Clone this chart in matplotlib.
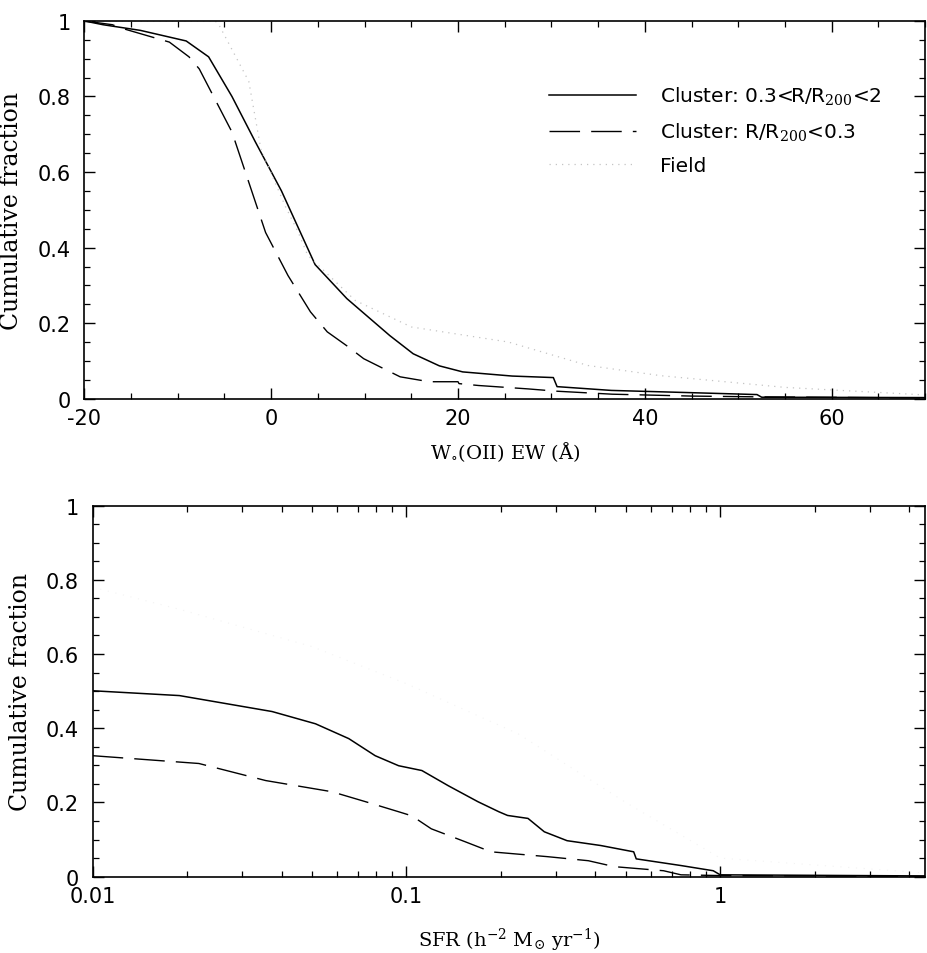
import numpy as np
import matplotlib
matplotlib.use('Agg')
import matplotlib.pyplot as plt
from matplotlib.ticker import MultipleLocator, FixedLocator, NullFormatter

plt.rcParams['font.family'] = ['DejaVu Serif', 'Liberation Serif']
plt.rcParams['mathtext.fontset'] = 'dejavuserif'

# top panel: cumulative fraction vs W0(OII) EW
ew_out = [-20, -18, -14, -9.1, -6.7, -4.2, -1.7, 1.1, 4.7, 8.1, 12.7, 15.2, 18.0, 20.5,
          25.8, 30.2, 30.6, 36.4, 45, 52, 52.5, 70]
cf_out = [1.0, 0.99, 0.975, 0.947, 0.905, 0.80, 0.68, 0.55, 0.355, 0.265, 0.167, 0.119,
          0.087, 0.071, 0.06, 0.056, 0.032, 0.022, 0.016, 0.011, 0.004, 0.003]
ew_in = [-20, -17, -15.9, -10.9, -8.8, -7.7, -4.2, -0.6, 1.8, 4.2, 6.0, 8.1, 9.9, 11.6,
         13.8, 16.9, 19.5, 20, 20.1, 22.2, 27.5, 30.5, 36.5, 45, 52, 70]
cf_in = [1.0, 0.99, 0.98, 0.944, 0.905, 0.873, 0.706, 0.44, 0.326, 0.23, 0.177, 0.14, 0.106,
         0.085, 0.058, 0.045, 0.045, 0.045, 0.04, 0.035, 0.026, 0.02, 0.012, 0.007, 0.005, 0.002]
ew_field = [-20, -6, -5.6, -2.4, -1.1, 1.5, 2.9, 3.9, 9, 15, 25.4, 33.9, 41.7, 55, 70]
cf_field = [1.0, 1.0, 0.99, 0.84, 0.66, 0.51, 0.44, 0.38, 0.26, 0.19, 0.15, 0.088, 0.061, 0.03, 0.01]

# bottom panel: cumulative fraction vs SFR
sfr_out = [0.01, 0.0189, 0.0373, 0.0513, 0.0655, 0.0795, 0.0944, 0.112, 0.136, 0.169, 0.197,
           0.21, 0.244, 0.275, 0.325, 0.416, 0.53, 0.54, 0.75, 0.95, 1.0, 4.5]
cf_sfr_out = [0.501, 0.488, 0.445, 0.412, 0.372, 0.326, 0.299, 0.286, 0.245, 0.202, 0.175,
              0.165, 0.157, 0.121, 0.097, 0.084, 0.067, 0.048, 0.03, 0.016, 0.005, 0.002]
sfr_in = [0.01, 0.0218, 0.0356, 0.0578, 0.0741, 0.0944, 0.104, 0.12, 0.154, 0.186, 0.281,
          0.38, 0.46, 0.66, 0.75, 1.0, 4.5]
cf_sfr_in = [0.326, 0.305, 0.259, 0.229, 0.202, 0.175, 0.164, 0.129, 0.094, 0.067, 0.054,
             0.043, 0.027, 0.016, 0.005, 0.003, 0.001]
sfr_field = [0.01, 0.019, 0.05, 0.1, 0.227, 0.5, 1.0, 4.5]
cf_sfr_field = [0.78, 0.72, 0.62, 0.52, 0.385, 0.2, 0.05, 0.01]

labels = [r'Cluster: 0.3<R/R$_{200}$<2', r'Cluster: R/R$_{200}$<0.3', 'Field']
dash = (0, (22, 8))

fig = plt.figure(figsize=(9.27, 9.54), dpi=100)
ax1 = fig.add_axes([0.091, 0.581, 0.907, 0.396])
ax2 = fig.add_axes([0.100, 0.080, 0.898, 0.389])

l1, = ax1.plot(ew_out, cf_out, color='black', linewidth=1.1)
l2, = ax1.plot(ew_in, cf_in, color='black', linewidth=1.0, linestyle=dash)
l3, = ax1.plot(ew_field, cf_field, color='#c4c4c4', linewidth=0.9, linestyle=(0, (1, 4)))
ax1.set_xlim(-20, 70)
ax1.set_ylim(0, 1)
ax1.set_xticks([-20, 0, 20, 40, 60])
ax1.set_xticklabels(['-20', '0', '20', '40', '60'])
ax1.xaxis.set_minor_locator(MultipleLocator(5))
ax1.set_yticks([0, 0.2, 0.4, 0.6, 0.8, 1.0])
ax1.set_yticklabels(['0', '0.2', '0.4', '0.6', '0.8', '1'])
ax1.yaxis.set_minor_locator(MultipleLocator(0.05))
ax1.set_xlabel(r'W$_{\circ}$(OII) EW (Å)', fontsize=14, labelpad=8)
ax1.set_ylabel('Cumulative fraction', fontsize=17, labelpad=10)
ax1.legend([l1, l2, l3], labels, loc='upper left', bbox_to_anchor=(0.553, 0.83),
           frameon=False, handlelength=4.3, handletextpad=1.2, borderpad=0,
           borderaxespad=0, labelspacing=0.65, prop={'family': 'DejaVu Sans', 'size': 14.5})

ax2.plot(sfr_out, cf_sfr_out, color='black', linewidth=1.1)
ax2.plot(sfr_in, cf_sfr_in, color='black', linewidth=1.0, linestyle=dash)
ax2.plot(sfr_field, cf_sfr_field, color='#f3f3f3', linewidth=0.8, linestyle=(0, (1, 6)))
ax2.set_xscale('log')
ax2.set_xlim(0.01, 4.5)
ax2.set_ylim(0, 1)
ax2.xaxis.set_major_locator(FixedLocator([0.01, 0.1, 1]))
ax2.set_xticklabels(['0.01', '0.1', '1'])
ax2.xaxis.set_minor_locator(FixedLocator([a * b for b in [0.01, 0.1, 1] for a in range(2, 10)]))
ax2.xaxis.set_minor_formatter(NullFormatter())
ax2.set_yticks([0, 0.2, 0.4, 0.6, 0.8, 1.0])
ax2.set_yticklabels(['0', '0.2', '0.4', '0.6', '0.8', '1'])
ax2.yaxis.set_minor_locator(MultipleLocator(0.05))
ax2.set_xlabel(r'SFR (h$^{-2}$ M$_{\odot}$ yr$^{-1}$)', fontsize=14, labelpad=14)
ax2.set_ylabel('Cumulative fraction', fontsize=17, labelpad=10)

for ax in (ax1, ax2):
    ax.tick_params(which='both', direction='in', top=True, right=True)
    ax.tick_params(which='major', length=8, width=1.0, labelsize=15)
    ax.tick_params(which='minor', length=4, width=0.9)
    ax.tick_params(axis='y', which='major', pad=10)
    ax.tick_params(axis='x', which='major', pad=7)
    for t in ax.get_xticklabels() + ax.get_yticklabels():
        t.set_family('DejaVu Sans')
    for s in ax.spines.values():
        s.set_linewidth(1.2)

fig.savefig('out.png', dpi=100)
